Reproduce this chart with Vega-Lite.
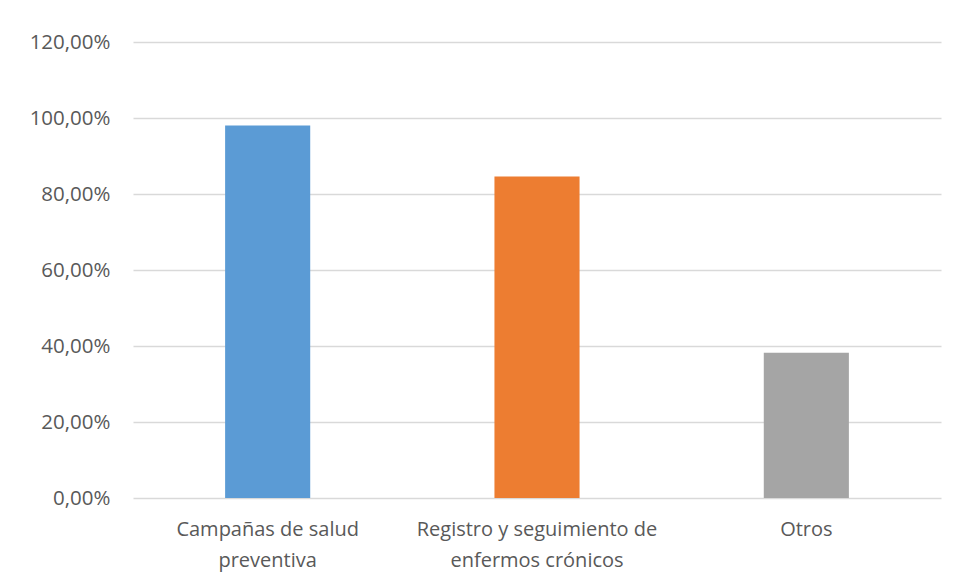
{
  "$schema": "https://vega.github.io/schema/vega-lite/v6.json",
  "autosize": {"type": "none"},
  "width": 808,
  "height": 456,
  "padding": {"left": 133, "top": 42, "right": 15, "bottom": 87},
  "background": "white",
  "config": {
    "view": {"stroke": null},
    "font": "Open Sans"
  },
  "data": {
    "values": [
      {"categoria": "Campañas de salud preventiva", "valor": 0.98},
      {"categoria": "Registro y seguimiento de enfermos crónicos", "valor": 0.846},
      {"categoria": "Otros", "valor": 0.382}
    ]
  },
  "mark": {"type": "bar"},
  "encoding": {
    "x": {
      "field": "categoria",
      "type": "nominal",
      "sort": null,
      "scale": {"paddingInner": 0.684, "paddingOuter": 0.342},
      "axis": {
        "title": null,
        "labelAngle": 0,
        "domain": false,
        "ticks": false,
        "labelFont": "Open Sans",
        "labelFontSize": 20,
        "labelColor": "#595959",
        "labelPadding": 21,
        "labelLineHeight": 31,
        "labelLimit": 400,
        "labelExpr": "datum.value == 'Campañas de salud preventiva' ? ['Campañas de salud', 'preventiva'] : datum.value == 'Registro y seguimiento de enfermos crónicos' ? ['Registro y seguimiento de', 'enfermos crónicos'] : datum.value"
      }
    },
    "y": {
      "field": "valor",
      "type": "quantitative",
      "scale": {"domain": [0, 1.2], "nice": false},
      "axis": {
        "title": null,
        "values": [0, 0.2, 0.4, 0.6, 0.8, 1.0, 1.2],
        "domain": false,
        "ticks": false,
        "grid": true,
        "gridColor": "#d9d9d9",
        "gridWidth": 1.5,
        "labelFont": "Open Sans",
        "labelFontSize": 20.5,
        "labelColor": "#595959",
        "labelPadding": 23,
        "labelExpr": "replace(format(datum.value, '.2%'), '.', ',')"
      }
    },
    "color": {
      "field": "categoria",
      "type": "nominal",
      "sort": null,
      "scale": {
        "domain": ["Campañas de salud preventiva", "Registro y seguimiento de enfermos crónicos", "Otros"],
        "range": ["#5B9BD5", "#ED7D31", "#A5A5A5"]
      },
      "legend": null
    }
  }
}
